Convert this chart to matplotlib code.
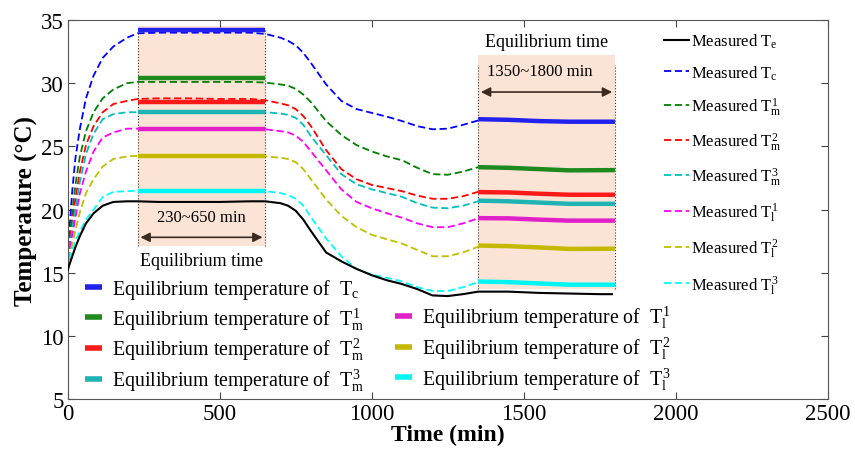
import matplotlib
matplotlib.use("Agg")
import matplotlib.pyplot as plt
from matplotlib.lines import Line2D

plt.rcParams['font.family'] = ['Liberation Serif', 'DejaVu Serif']
plt.rcParams['mathtext.fontset'] = 'custom'
plt.rcParams['mathtext.rm'] = 'Liberation Serif'
plt.rcParams['mathtext.it'] = 'Liberation Serif'
plt.rcParams['mathtext.bf'] = 'Liberation Serif:bold'

# measured temperatures (0 ~ 1350 min)
t_meas = [0, 5, 15, 25, 40, 60, 85, 115, 150, 195, 230, 300, 400, 500, 600, 650,
          700, 725, 750, 775, 800, 850, 900, 950, 1000, 1050, 1100, 1150, 1200, 1250, 1300, 1350]
tc_meas = [15.2, 18.2, 21.5, 24.0, 26.4, 28.8, 30.6, 32.0, 32.9, 33.6, 33.95, 34.0, 34.0, 34.0, 34.0, 33.9,
           33.6, 33.35, 33.0, 32.4, 31.6, 29.9, 28.6, 27.95, 27.65, 27.35, 27.0, 26.6, 26.35, 26.4, 26.7, 27.05]
tm1_meas = [15.2, 17.2, 19.8, 21.9, 24.2, 26.2, 27.7, 28.8, 29.5, 30.0, 30.1, 30.1, 30.1, 30.1, 30.1, 30.05,
            29.9, 29.8, 29.55, 29.1, 28.5, 27.0, 25.9, 25.1, 24.6, 24.2, 23.9, 23.3, 22.8, 22.75, 23.0, 23.35]
tm2_meas = [15.2, 17.0, 19.0, 20.8, 23.0, 25.1, 26.6, 27.7, 28.35, 28.6, 28.75, 28.8, 28.8, 28.75, 28.75, 28.65,
            28.4, 28.25, 27.95, 27.4, 26.6, 24.7, 23.2, 22.4, 21.95, 21.7, 21.45, 21.1, 20.85, 20.85, 21.05, 21.4]
tm3_meas = [15.2, 16.8, 18.5, 20.0, 22.2, 24.4, 26.0, 27.15, 27.55, 27.7, 27.7, 27.75, 27.75, 27.75, 27.75, 27.7,
            27.6, 27.5, 27.25, 26.7, 25.8, 24.3, 22.8, 22.0, 21.6, 21.3, 21.0, 20.5, 20.15, 20.1, 20.3, 20.65]
tl1_meas = [15.2, 16.6, 18.0, 19.3, 21.3, 23.0, 24.6, 25.7, 26.1, 26.4, 26.4, 26.4, 26.4, 26.4, 26.4, 26.35,
            26.2, 26.1, 25.85, 25.35, 24.6, 23.1, 21.6, 20.6, 20.1, 19.7, 19.35, 18.9, 18.6, 18.6, 18.9, 19.3]
tl2_meas = [15.2, 16.3, 17.3, 18.3, 19.8, 21.3, 22.4, 23.4, 24.0, 24.2, 24.25, 24.25, 24.25, 24.25, 24.25, 24.2,
            24.1, 24.0, 23.75, 23.2, 22.4, 20.8, 19.5, 18.6, 18.0, 17.65, 17.3, 16.8, 16.3, 16.3, 16.6, 17.05]
tl3_meas = [15.2, 16.0, 16.8, 17.5, 18.3, 19.2, 20.0, 21.0, 21.4, 21.45, 21.5, 21.5, 21.5, 21.5, 21.5, 21.45,
            21.3, 21.15, 20.85, 20.3, 19.4, 17.7, 16.3, 15.3, 14.85, 14.6, 14.3, 13.85, 13.55, 13.55, 13.85, 14.25]

# measured Te (environment), whole test
t_te = t_meas + [1450, 1550, 1650, 1750, 1790]
te_meas = [15.2, 15.6, 16.3, 17.0, 17.9, 18.9, 19.7, 20.3, 20.6, 20.65, 20.65, 20.6, 20.6, 20.6, 20.65, 20.65,
           20.5, 20.3, 19.9, 19.2, 18.3, 16.6, 15.9, 15.3, 14.8, 14.4, 14.1, 13.7, 13.2, 13.15, 13.3, 13.5,
           13.5, 13.4, 13.35, 13.3, 13.3]

# equilibrium temperatures
t_eq1 = [230, 650]
tc_eq1 = [34.2, 34.2]
tm1_eq1 = [30.4, 30.4]
tm2_eq1 = [28.5, 28.5]
tm3_eq1 = [27.7, 27.7]
tl1_eq1 = [26.4, 26.4]
tl2_eq1 = [24.2, 24.2]
tl3_eq1 = [21.5, 21.5]

t_eq2 = [1350, 1450, 1550, 1650, 1800]
tc_eq2 = [27.15, 27.1, 27.0, 26.95, 26.95]
tm1_eq2 = [23.35, 23.3, 23.2, 23.1, 23.12]
tm2_eq2 = [21.38, 21.35, 21.25, 21.17, 21.17]
tm3_eq2 = [20.7, 20.65, 20.55, 20.45, 20.45]
tl1_eq2 = [19.32, 19.3, 19.2, 19.12, 19.12]
tl2_eq2 = [17.15, 17.1, 17.0, 16.88, 16.9]
tl3_eq2 = [14.3, 14.25, 14.15, 14.05, 14.05]

names = [r'$T_c$', r'$T_m^1$', r'$T_m^2$', r'$T_m^3$', r'$T_l^1$', r'$T_l^2$', r'$T_l^3$']
meas_colors = ['#0000FF', '#008000', '#FF0000', '#00BFBF', '#FF00FF', '#BFBF00', '#00FFFF']
eq_colors = ['#2222EE', '#1E8A1E', '#FF1A1A', '#1FB3B3', '#E020C8', '#C4B800', '#00F5F5']

meas = [tc_meas, tm1_meas, tm2_meas, tm3_meas, tl1_meas, tl2_meas, tl3_meas]
eq1 = [tc_eq1, tm1_eq1, tm2_eq1, tm3_eq1, tl1_eq1, tl2_eq1, tl3_eq1]
eq2 = [tc_eq2, tm1_eq2, tm2_eq2, tm3_eq2, tl1_eq2, tl2_eq2, tl3_eq2]

fig = plt.figure(figsize=(8.55, 4.52), dpi=100)
ax = fig.add_axes([0.0792, 0.115, 0.8889, 0.8385])

# shaded equilibrium windows
ax.fill_between([230, 650], 17.1, 34.5, color='#FBE4D6', zorder=0, lw=0)
ax.fill_between([1350, 1800], 13.7, 32.2, color='#FBE4D6', zorder=0, lw=0)
for x, y0, y1 in [(230, 17.1, 34.3), (650, 17.1, 34.3), (1350, 13.7, 31.4), (1800, 13.7, 31.4)]:
    ax.plot([x, x], [y0, y1], ls=':', color='#333333', lw=0.8, zorder=1)

ax.plot(t_te, te_meas, color='black', lw=1.5, zorder=3)
meas_lines = []
for vals, c in zip(meas, meas_colors):
    ln, = ax.plot(t_meas, vals, color=c, lw=1.3, ls=(0, (4, 2)), zorder=2)
    meas_lines.append(ln)

eq_lines = []
for v1, v2, c in zip(eq1, eq2, eq_colors):
    ln, = ax.plot(t_eq1, v1, color=c, lw=3.2, solid_capstyle='butt', zorder=4)
    ax.plot(t_eq2, v2, color=c, lw=3.2, solid_capstyle='butt', zorder=4)
    eq_lines.append(ln)

# annotations
arrow_kw = dict(arrowstyle='<|-|>', color='#3A2A20', lw=1.2, mutation_scale=14)
ax.annotate('', xy=(230, 17.8), xytext=(650, 17.8), arrowprops=arrow_kw)
ax.text(440, 19.4, '230~650 min', ha='center', va='center', fontsize=12)
ax.text(440, 16.0, 'Equilibrium time', ha='center', va='center', fontsize=13)
ax.annotate('', xy=(1350, 29.3), xytext=(1800, 29.3), arrowprops=arrow_kw)
ax.text(1380, 31.0, '1350~1800 min', ha='left', va='center', fontsize=12)
ax.text(1575, 33.3, 'Equilibrium time', ha='center', va='center', fontsize=13)

ax.set_xlim(0, 2500)
ax.set_ylim(5, 35)
ax.set_xticks([0, 500, 1000, 1500, 2000, 2500])
ax.set_yticks([5, 10, 15, 20, 25, 30, 35])
ax.tick_params(direction='in', top=True, right=True, labelsize=16.5, length=5, color='#444444', pad=3)
for s in ax.spines.values():
    s.set_color('#555555')
ax.set_xlabel('Time (min)', fontsize=17, fontweight='bold', labelpad=0)
ax.set_ylabel('Temperature (\u00b0C)', fontsize=18, fontweight='bold', labelpad=2)

# right legend: measured
te_handle = Line2D([], [], color='black', lw=1.5)
h_right = [te_handle] + meas_lines
l_right = [r'Measured $T_e$'] + ['Measured ' + n for n in names]
leg1 = ax.legend(h_right, l_right, loc='upper left', bbox_to_anchor=(0.785, 0.97),
                 frameon=False, fontsize=12, handlelength=1.5, handletextpad=0.1,
                 labelspacing=0.8, borderpad=0, borderaxespad=0)
ax.add_artist(leg1)

# bottom legend: equilibrium
blank = Line2D([], [], color='none')
h_bot = eq_lines[:4] + [blank] + eq_lines[4:]
l_bot = ['Equilibrium temperature of  ' + n for n in names[:4]] + [''] + \
        ['Equilibrium temperature of  ' + n for n in names[4:]]
ax.legend(h_bot, l_bot, loc='upper left', bbox_to_anchor=(0.0228, 0.322), ncol=2,
          frameon=False, fontsize=14.3, handlelength=0.85, handletextpad=0.5,
          labelspacing=0.22, columnspacing=1.55, borderpad=0, borderaxespad=0)
for ln in ax.get_legend().get_lines():
    ln.set_linewidth(4)

fig.savefig('out.png', dpi=100)
